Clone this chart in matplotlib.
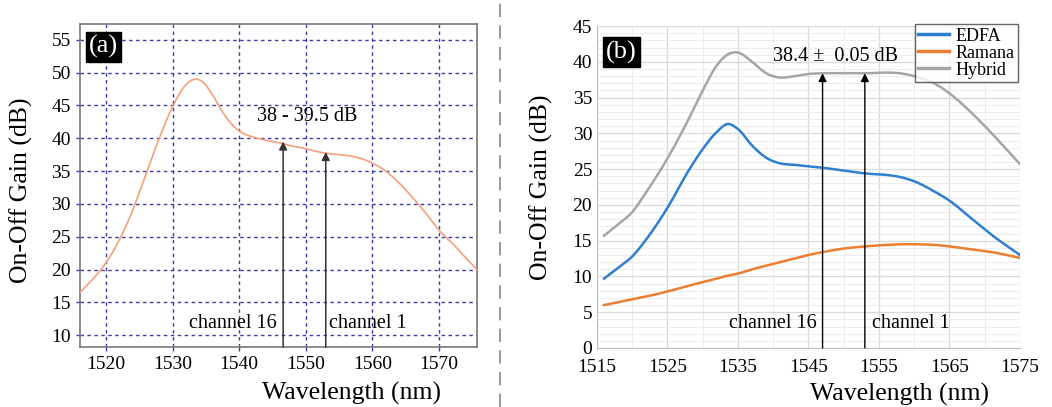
import matplotlib
matplotlib.use("Agg")
import matplotlib.pyplot as plt
import numpy as np
from matplotlib.ticker import MultipleLocator
from matplotlib.lines import Line2D

plt.rcParams['font.family'] = ['Liberation Serif', 'DejaVu Serif']

# ---------- Panel (a) data ----------
wl_a = [1516.1, 1518, 1520, 1522, 1524, 1526, 1528, 1530, 1531.5, 1533, 1534.5, 1536, 1537.5,
        1539, 1540.5, 1542, 1544, 1546, 1548, 1550, 1552, 1554, 1556, 1558, 1560, 1562,
        1564, 1566, 1568, 1570, 1572, 1574, 1575.7]
gain_a = [16.5, 18.5, 21.0, 24.5, 29.0, 34.5, 40.0, 44.8, 47.5, 48.9, 48.6, 46.6, 44.0,
          42.0, 40.8, 40.2, 39.7, 39.3, 38.8, 38.4, 37.9, 37.6, 37.4, 37.0, 36.2, 35.0,
          33.2, 31.0, 28.6, 26.0, 24.0, 21.8, 20.0]

# ---------- Panel (b) data ----------
wl_b = [1516, 1518, 1520, 1522, 1525, 1528, 1530, 1532, 1533.5, 1535, 1537, 1539, 1541,
        1543, 1545, 1547, 1550, 1553, 1556, 1558, 1560, 1563, 1565, 1568, 1571, 1575]
edfa = [9.7, 11.2, 12.8, 15.2, 19.6, 24.8, 27.8, 30.2, 31.3, 30.6, 28.3, 26.6, 25.8,
        25.6, 25.4, 25.2, 24.8, 24.4, 24.2, 23.9, 23.3, 21.8, 20.6, 18.2, 15.8, 13.0]
ramana = [6.0, 6.4, 6.8, 7.2, 7.9, 8.7, 9.2, 9.7, 10.1, 10.4, 11.0, 11.5, 12.0,
          12.5, 13.0, 13.4, 13.9, 14.2, 14.4, 14.5, 14.5, 14.4, 14.2, 13.8, 13.4, 12.6]
hybrid = [15.7, 17.3, 19.0, 21.8, 26.5, 32.0, 36.0, 39.5, 41.0, 41.3, 40.0, 38.4, 37.8,
          38.0, 38.3, 38.4, 38.4, 38.4, 38.5, 38.4, 38.0, 36.9, 35.6, 33.0, 30.0, 25.7]

series_names = ['EDFA', 'Ramana', 'Hybrid']
series_colors = ['#2e7fd0', '#ed7d31', '#a6a6a6']

xticks_a = [1520, 1530, 1540, 1550, 1560, 1570]
yticks_a = [10, 15, 20, 25, 30, 35, 40, 45, 50, 55]
xticks_b = [1515, 1525, 1535, 1545, 1555, 1565, 1575]
yticks_b = [0, 5, 10, 15, 20, 25, 30, 35, 40, 45]

ch16_a, ch1_a = 1546.6, 1553.0
ch16_tip_a, ch1_tip_a = 39.5, 37.9
ch16_b, ch1_b = 1547.0, 1553.0
tip_b = 38.4


def smooth(x, y, n=400):
    x = np.asarray(x, float); y = np.asarray(y, float)
    xs = np.linspace(x[0], x[-1], n)
    m = np.gradient(y, x)
    ys = np.empty_like(xs)
    idx = np.clip(np.searchsorted(x, xs) - 1, 0, len(x) - 2)
    for k, (xi, i) in enumerate(zip(xs, idx)):
        h = x[i + 1] - x[i]
        t = (xi - x[i]) / h
        h00 = 2*t**3 - 3*t**2 + 1; h10 = t**3 - 2*t**2 + t
        h01 = -2*t**3 + 3*t**2; h11 = t**3 - t**2
        ys[k] = h00*y[i] + h10*h*m[i] + h01*y[i+1] + h11*h*m[i+1]
    return xs, ys


fig = plt.figure(figsize=(10.52, 4.07), dpi=100)

# ---------------- Panel (a) ----------------
ax1 = fig.add_axes([0.076, 0.1474, 0.3774, 0.7936])
xa, ya = smooth(wl_a, gain_a)
ax1.plot(xa, ya, color='#f4a07a', lw=1.2, zorder=3)
ax1.set_xlim(1516.1, 1575.7)
ax1.set_ylim(8.2, 57.4)
ax1.set_xticks(xticks_a)
ax1.set_yticks(yticks_a)
ax1.grid(True, color='#3a3aa8', linestyle=(0, (2.5, 2.5)), lw=1.0)
ax1.tick_params(labelsize=14, length=3, color='#3a3aa8', width=1.0)
for s in ax1.spines.values():
    s.set_color('#777777')
    s.set_linewidth(1.2)
ax1.set_ylabel('On-Off Gain (dB)', fontsize=18.5)
ax1.yaxis.set_label_coords(-0.118, 0.486)
ax1.set_xlabel('Wavelength (nm)', fontsize=18.5)
ax1.xaxis.set_label_coords(0.683, -0.108)
for xc, tip in [(ch16_a, ch16_tip_a), (ch1_a, ch1_tip_a)]:
    ax1.annotate('', xy=(xc, tip), xytext=(xc, 8.2),
                 arrowprops=dict(arrowstyle='-|>', color='#333333', lw=1.1,
                                 mutation_scale=12, shrinkA=0, shrinkB=0), zorder=4)
ax1.text(1550.2, 43.3, '38 - 39.5 dB', fontsize=14.5, ha='center', va='center', zorder=5)
ax1.text(1539.0, 11.8, 'channel 16', fontsize=14.5, ha='center', va='center', zorder=5)
ax1.text(1559.3, 11.8, 'channel 1', fontsize=14.5, ha='center', va='center', zorder=5)
ax1.text(0.022, 0.965, '(a)', transform=ax1.transAxes, fontsize=19, color='white',
         ha='left', va='top', zorder=6,
         bbox=dict(boxstyle='square,pad=0.12', fc='black', ec='black'))

# ---------------- Panel (b) ----------------
ax2 = fig.add_axes([0.5675, 0.145, 0.402, 0.791])
for name, vals, c in zip(series_names, [edfa, ramana, hybrid], series_colors):
    xb, yb = smooth(wl_b, vals)
    ax2.plot(xb, yb, color=c, lw=1.8, zorder=3, label=name)
ax2.set_xlim(1515, 1575)
ax2.set_ylim(0, 45)
ax2.set_xticks(xticks_b)
ax2.set_yticks(yticks_b)
ax2.xaxis.set_minor_locator(MultipleLocator(5))
ax2.yaxis.set_minor_locator(MultipleLocator(1))
ax2.grid(True, which='major', color='#d9d9d9', lw=0.9)
ax2.grid(True, which='minor', color='#ececec', lw=0.7)
ax2.set_axisbelow(True)
ax2.tick_params(which='both', length=0, labelsize=14)
ax2.tick_params(axis='x', pad=8)
for side in ['top', 'right']:
    ax2.spines[side].set_visible(False)
for side in ['left', 'bottom']:
    ax2.spines[side].set_color('#bfbfbf')
ax2.set_ylabel('On-Off Gain (dB)', fontsize=18.5)
ax2.yaxis.set_label_coords(-0.104, 0.5)
ax2.set_xlabel('Wavelength (nm)', fontsize=18.5)
ax2.xaxis.set_label_coords(0.716, -0.108)
for xc in [ch16_b, ch1_b]:
    ax2.annotate('', xy=(xc, tip_b), xytext=(xc, 0),
                 arrowprops=dict(arrowstyle='-|>', color='black', lw=1.0,
                                 mutation_scale=12, shrinkA=0, shrinkB=0), zorder=4)
ax2.text(1548.8, 40.7, '38.4 \u00b1  0.05 dB', fontsize=14.5, ha='center', va='center', zorder=5)
ax2.text(1540.0, 3.4, 'channel 16', fontsize=14.5, ha='center', va='center', zorder=5)
ax2.text(1559.5, 3.4, 'channel 1', fontsize=14.5, ha='center', va='center', zorder=5)
ax2.text(0.022, 0.955, '(b)', transform=ax2.transAxes, fontsize=19, color='white',
         ha='left', va='top', zorder=6,
         bbox=dict(boxstyle='square,pad=0.12', fc='black', ec='black'))
leg = ax2.legend(loc='upper right', bbox_to_anchor=(0.995, 1.006), fontsize=13,
                 frameon=True, fancybox=False, borderpad=0.2, labelspacing=0.0,
                 handlelength=1.7, handletextpad=0.35, borderaxespad=0.0)
leg.get_frame().set_edgecolor('#404040')
leg.get_frame().set_linewidth(1.0)
for h in leg.get_lines():
    h.set_linewidth(2.5)

# separator line
fig.add_artist(Line2D([500/1052, 500/1052], [0.0, 1.0], transform=fig.transFigure,
                      color='#888888', lw=1.2, linestyle=(0, (8, 5))))

fig.savefig('out.png', dpi=100)
